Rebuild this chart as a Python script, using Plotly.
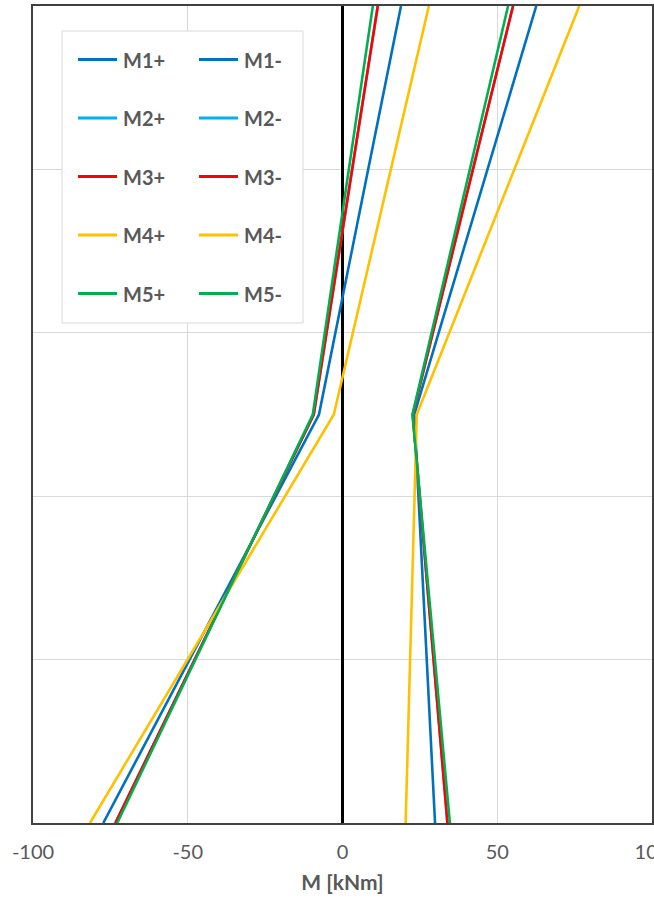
import plotly.graph_objects as go

# Storey heights at which the bending moments are evaluated
heights = [0, 2.5, 5]

# Moment envelopes [kNm] for the five load cases, positive and negative side
m1_pos = [-77.3, -7.6, 18.9]
m2_pos = [-73.4, -9.3, 11.4]
m3_pos = [-73.4, -9.3, 11.4]
m4_pos = [-81.6, -2.8, 27.9]
m5_pos = [-72.8, -9.6, 9.8]

m1_neg = [29.9, 23.2, 62.6]
m2_neg = [33.9, 22.7, 55.1]
m3_neg = [33.9, 22.7, 55.1]
m4_neg = [20.4, 24.0, 76.5]
m5_neg = [34.7, 22.6, 53.5]

case_names = ["M1", "M2", "M3", "M4", "M5"]
case_colors = ["#0070C0", "#00B0F0", "#FF0000", "#FFC000", "#00B050"]
pos_series = [m1_pos, m2_pos, m3_pos, m4_pos, m5_pos]
neg_series = [m1_neg, m2_neg, m3_neg, m4_neg, m5_neg]

x_ticks = [-100, -50, 0, 50, 100]

W, H = 654, 898
ML, MR, MT, MB = 33, 2, 6, 75
PW, PH = W - ML - MR, H - MT - MB

GRAY = "#595959"
FONT = "Lato"


def px_x(px):
    return (px - ML) / PW


def px_y(py):
    return (H - MB - py) / PH


fig = go.Figure()
for name, color, pos, neg in zip(case_names, case_colors, pos_series, neg_series):
    fig.add_trace(go.Scatter(x=pos, y=heights, mode="lines", name=name + "+",
                             line=dict(color=color, width=2.6), showlegend=False))
    fig.add_trace(go.Scatter(x=neg, y=heights, mode="lines", name=name + "-",
                             line=dict(color=color, width=2.6), showlegend=False))

# Two-column legend box in the upper left of the plot area
shapes = [dict(type="rect", xref="paper", yref="paper",
               x0=px_x(62), x1=px_x(303), y0=px_y(323), y1=px_y(31),
               line=dict(color="#d9d9d9", width=1), fillcolor="white", layer="above")]
annotations = []
row_y = [59.5, 118, 176.5, 235, 293.5]
columns = [(78, 117, 121, "+"), (199, 238, 242, "-")]
for i, (name, color) in enumerate(zip(case_names, case_colors)):
    for lx0, lx1, tx, sign in columns:
        shapes.append(dict(type="line", xref="paper", yref="paper",
                           x0=px_x(lx0), x1=px_x(lx1), y0=px_y(row_y[i]), y1=px_y(row_y[i]),
                           line=dict(color=color, width=3), layer="above"))
        annotations.append(dict(xref="paper", yref="paper", x=px_x(tx), y=px_y(row_y[i]),
                                text="<b>" + name + sign + "</b>", showarrow=False,
                                xanchor="left", yanchor="middle",
                                font=dict(family=FONT, size=20, color=GRAY)))

fig.update_layout(
    width=W, height=H,
    margin=dict(l=ML, r=MR, t=MT, b=MB, pad=0, autoexpand=False),
    paper_bgcolor="white", plot_bgcolor="white",
    showlegend=False,
    shapes=shapes,
    annotations=annotations,
)

fig.update_xaxes(
    range=[-100, 100], tickvals=x_ticks, ticktext=[str(v) for v in x_ticks],
    showgrid=True, gridcolor="#d9d9d9", gridwidth=1,
    zeroline=True, zerolinecolor="black", zerolinewidth=2.5,
    showline=True, mirror=True, linecolor="#404040", linewidth=1.5,
    ticks="", ticklabelstandoff=10, ticklabeloverflow="allow", automargin=False,
    tickfont=dict(family=FONT, size=20, color=GRAY),
    title=dict(text="<b>M [kNm]</b>", font=dict(family=FONT, size=21, color=GRAY), standoff=14),
)
fig.update_yaxes(
    range=[0, 5], dtick=1, showticklabels=False, automargin=False,
    showgrid=True, gridcolor="#d9d9d9", gridwidth=1,
    zeroline=False,
    showline=True, mirror=True, linecolor="#404040", linewidth=1.5,
    ticks="",
)

fig.write_html("out.html")
